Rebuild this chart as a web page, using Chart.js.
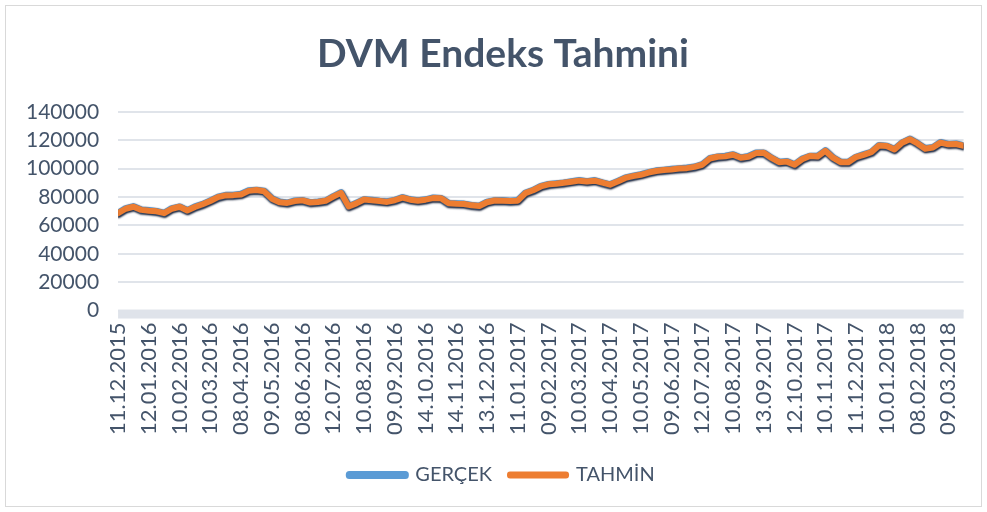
<!DOCTYPE html>
<html>
<head>
<meta charset="utf-8">
<script src="https://cdn.jsdelivr.net/npm/chart.js@4.4.1/dist/chart.umd.min.js"></script>
<style>
  html, body { margin: 0; padding: 0; background: #ffffff; }
  #wrap { position: relative; width: 987px; height: 512px; }
  #frame { position: absolute; left: 5px; top: 5px; right: 5px; bottom: 5px; border: 1px solid #d9d9d9; pointer-events: none; }
  canvas { display: block; }
</style>
</head>
<body>
<div id="wrap">
  <canvas id="c" width="987" height="512"></canvas>
  <div id="frame"></div>
</div>
<script>
const chartTitle = "DVM Endeks Tahmini";
const seriesNames = ["GERÇEK", "TAHMİN"];
const tickLabels = [
  "11.12.2015", "12.01.2016", "10.02.2016", "10.03.2016", "08.04.2016", "09.05.2016",
  "08.06.2016", "12.07.2016", "10.08.2016", "09.09.2016", "14.10.2016", "14.11.2016",
  "13.12.2016", "11.01.2017", "09.02.2017", "10.03.2017", "10.04.2017", "10.05.2017",
  "09.06.2017", "12.07.2017", "10.08.2017", "13.09.2017", "12.10.2017", "10.11.2017",
  "11.12.2017", "10.01.2018", "08.02.2018", "09.03.2018"
];
const samplesPerLabel = 4;
const gercekValues = [
  68500, 71800, 73200, 70800, 70400, 69800, 68500, 71800, 73000, 70400,
  73000, 74800, 77300, 79800, 81200, 81200, 81900, 84400, 84800, 84100,
  78700, 76400, 75700, 77200, 77500, 76000, 76500, 77200, 80300, 83000,
  73200, 75600, 78100, 77700, 77000, 76600, 77600, 79600, 78000, 77400,
  78000, 79300, 79000, 75400, 75300, 75000, 74000, 73500, 76400, 77400,
  77500, 77000, 77500, 82800, 84600, 87500, 88800, 89400, 89900, 90800,
  91600, 90800, 91600, 90000, 88600, 91000, 93500, 94600, 95700, 97100,
  98400, 98900, 99500, 99900, 100400, 101100, 102800, 107200, 108200, 108700,
  109800, 107500, 108500, 111000, 111000, 107400, 104400, 105000, 102600, 106700,
  108700, 108600, 112600, 107600, 104400, 104500, 108000, 109800, 111500, 116300,
  115800, 113500, 118100, 120800, 117600, 114100, 114800, 118400, 117000, 117400,
  116000
];
const tahminValues = [
  68600, 71700, 73100, 70900, 70300, 69900, 68600, 71700, 73100, 70500,
  72900, 74900, 77200, 79900, 81100, 81300, 81800, 84300, 84900, 84000,
  78800, 76300, 75800, 77100, 77600, 76100, 76400, 77300, 80200, 82900,
  73300, 75500, 78200, 77600, 77100, 76500, 77700, 79500, 78100, 77300,
  78100, 79200, 79100, 75500, 75200, 75100, 74100, 73600, 76300, 77500,
  77400, 77100, 77400, 82700, 84700, 87400, 88900, 89300, 90000, 90700,
  91500, 90900, 91500, 90100, 88700, 90900, 93400, 94700, 95600, 97200,
  98300, 99000, 99400, 100000, 100300, 101200, 102700, 107100, 108300, 108600,
  109700, 107600, 108400, 110900, 111100, 107500, 104500, 104900, 102700, 106600,
  108800, 108500, 112500, 107700, 104500, 104400, 108100, 109700, 111600, 116200,
  115900, 113400, 118200, 120700, 117700, 114000, 114900, 118300, 117100, 117300,
  116100
];
const yMin = 0, yMax = 140000, yStep = 20000;

const textColor = "#44546a";
const gridColor = "#e0e4ea";
const floorColor = "#dfe3ea";

const toPoints = arr => arr.map((v, i) => ({ x: i, y: v }));

const floorPlugin = {
  id: "floorBand",
  beforeDatasetsDraw(chart) {
    const a = chart.chartArea, ctx = chart.ctx;
    ctx.save();
    ctx.fillStyle = floorColor;
    ctx.fillRect(a.left, a.bottom - 1, a.right - a.left, 9);
    ctx.restore();
  }
};
const shadowPlugin = {
  id: "lineShadow",
  beforeDatasetDraw(chart) {
    const ctx = chart.ctx;
    ctx.save();
    ctx.shadowColor = "rgba(25,35,60,0.9)";
    ctx.shadowBlur = 2;
    ctx.shadowOffsetX = 0.5;
    ctx.shadowOffsetY = 1;
  },
  afterDatasetDraw(chart) {
    chart.ctx.restore();
  }
};
const boxShift = {
  id: "boxShift",
  afterUpdate(chart) {
    const l = chart.legend;
    if (l) { l.left += 16; l.right += 16; if (l.adjustHitBoxes) l.adjustHitBoxes(); }
    const t = chart.titleBlock;
    if (t) { t.left += 17; t.right += 17; }
  }
};

new Chart(document.getElementById("c"), {
  type: "line",
  data: {
    datasets: [
      {
        label: seriesNames[0],
        data: toPoints(gercekValues),
        borderColor: "#5b9bd5",
        backgroundColor: "#5b9bd5",
        borderWidth: 7,
        borderCapStyle: "round",
        borderJoinStyle: "round",
        pointRadius: 0,
        tension: 0,
        order: 2
      },
      {
        label: seriesNames[1],
        data: toPoints(tahminValues),
        borderColor: "#ed7d31",
        backgroundColor: "#ed7d31",
        borderWidth: 6,
        borderCapStyle: "round",
        borderJoinStyle: "round",
        pointRadius: 0,
        tension: 0,
        order: 1
      }
    ]
  },
  options: {
    responsive: false,
    animation: false,
    devicePixelRatio: 1,
    layout: { padding: { left: 7, right: 22, top: 31, bottom: 17 } },
    plugins: {
      title: {
        display: true,
        text: chartTitle,
        color: textColor,
        font: { family: "Lato", size: 39, weight: "bold" },
        padding: { top: 0, bottom: 34 }
      },
      legend: {
        display: true,
        position: "bottom",
        labels: {
          color: textColor,
          font: { family: "Lato", size: 20 },
          boxWidth: 56,
          boxHeight: 1,
          padding: 18,
          sort: (a, b) => a.datasetIndex - b.datasetIndex
        }
      },
      tooltip: { enabled: false }
    },
    scales: {
      x: {
        type: "linear",
        min: 0,
        max: gercekValues.length - 1,
        grid: { display: false, drawTicks: false },
        border: { display: false },
        afterBuildTicks(scale) {
          scale.ticks = tickLabels.map((t, i) => ({ value: i * samplesPerLabel }));
        },
        ticks: {
          autoSkip: false,
          minRotation: 90,
          maxRotation: 90,
          padding: 12,
          color: textColor,
          font: { family: "Lato", size: 22 },
          callback: (v) => tickLabels[Math.round(v / samplesPerLabel)]
        }
      },
      y: {
        min: yMin,
        max: yMax,
        grid: { color: gridColor, lineWidth: 2, drawTicks: false },
        border: { display: false },
        ticks: {
          stepSize: yStep,
          autoSkip: false,
          padding: 19,
          color: textColor,
          font: { family: "Lato", size: 21 },
          callback: (v) => String(v)
        }
      }
    }
  },
  plugins: [floorPlugin, shadowPlugin, boxShift]
});
</script>
</body>
</html>
